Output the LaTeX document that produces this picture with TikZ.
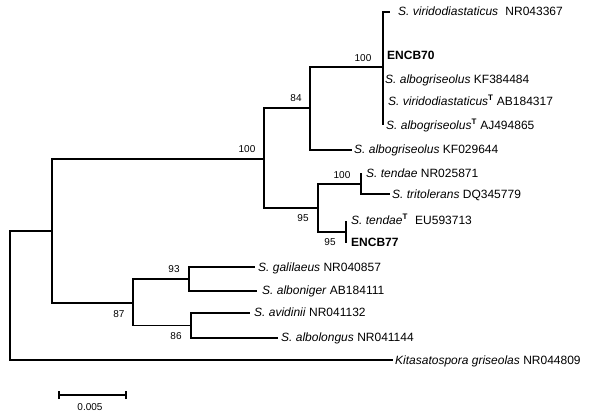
\documentclass[tikz,border=0pt]{standalone}
\usepackage{fontspec}
\setmainfont{Liberation Sans}
\begin{document}
\begin{tikzpicture}[x=1pt,y=-1pt,
  thk/.style={line width=1.9pt},
  thn/.style={line width=1.2pt},
  leaf/.style={anchor=west,inner sep=0pt,font=\fontsize{12}{14}\selectfont,text height=8.6pt,text depth=2.5pt},
  boot/.style={inner sep=0pt,font=\fontsize{10}{12}\selectfont}]
\useasboundingbox (0,0) rectangle (605,414);
\fill[white] (0,0) rectangle (605,414);
% internal nodes
\coordinate (R) at (10,295.5);
\coordinate (A) at (52,231);
\coordinate (U) at (264,159);
\coordinate (N84) at (310,108);
\coordinate (N100) at (383,67);
\coordinate (T95) at (318,208);
\coordinate (T100) at (361,184);
\coordinate (L95) at (346,232);
\coordinate (N87) at (133,303);
\coordinate (N93) at (189,279);
\coordinate (N86) at (191,325.5);
% tips
\coordinate (virT) at (390,12);
\coordinate (encbT) at (383,56);
\coordinate (kf38T) at (383,80);
\coordinate (ab18T) at (383,102);
\coordinate (aj49T) at (383,125);
\coordinate (kf02T) at (352,150);
\coordinate (tenT) at (361,173);
\coordinate (triT) at (390,194);
\coordinate (tentT) at (346,221);
\coordinate (enc77T) at (346,243);
\coordinate (galT) at (255,267);
\coordinate (albnT) at (257,291);
\coordinate (aviT) at (250,313);
\coordinate (albT) at (278,338);
\coordinate (kitT) at (393,360);
% edges
\draw[thn] (R) |- (A);
\draw[thn] (R) |- (kitT);
\draw[thk] (A) |- (U);
\draw[thk] (A) |- (N87);
\draw[thk] (U) |- (N84);
\draw[thk] (U) |- (T95);
\draw[thk] (N84) |- (N100);
\draw[thn] (N84) |- (kf02T);
\draw[thk] (N100) |- (virT);
\draw[thk] (N100) |- (encbT);
\draw[thk] (N100) |- (kf38T);
\draw[thk] (N100) |- (ab18T);
\draw[thk] (N100) |- (aj49T);
\draw[thk] (T95) |- (T100);
\draw[thk] (T95) |- (L95);
\draw[thn] (T100) |- (tenT);
\draw[thn] (T100) |- (triT);
\draw[thn] (L95) |- (tentT);
\draw[thn] (L95) |- (enc77T);
\draw[thk] (N87) |- (N93);
\draw[thk] (N87) |- (N86);
\draw[thn] (N93) |- (galT);
\draw[thn] (N93) |- (albnT);
\draw[thn] (N86) |- (aviT);
\draw[thn] (N86) |- (albT);
% leaf labels
\node[leaf] (vir) at (398,12) {\textit{S. viridodiastaticus}\hspace{0.6em}NR043367};
\node[leaf] (encb) at (387,56) {\textbf{ENCB70}};
\node[leaf] (kf38) at (385,80) {\textit{S. albogriseolus} KF384484};
\node[leaf] (ab18) at (388,102) {\textit{S. viridodiastaticus}\textsuperscript{\textbf{T}} AB184317};
\node[leaf] (aj49) at (386,126) {\textit{S. albogriseolus}\textsuperscript{\textbf{T}} AJ494865};
\node[leaf] (kf02) at (354,150) {\textit{S. albogriseolus} KF029644};
\node[leaf] (ten) at (366,174) {\textit{S. tendae} NR025871};
\node[leaf] (tri) at (392,195) {\textit{S. tritolerans} DQ345779};
\node[leaf] (tent) at (351,221) {\textit{S. tendae}\textsuperscript{\textbf{T}}\hspace{0.6em}EU593713};
\node[leaf] (enc77) at (351,243) {\textbf{ENCB77}};
\node[leaf] (gal) at (258,268) {\textit{S. galilaeus} NR040857};
\node[leaf] (albn) at (262,291) {\textit{S. alboniger} AB184111};
\node[leaf] (avi) at (254,313) {\textit{S. avidinii} NR041132};
\node[leaf] (alb) at (281,338) {\textit{S. albolongus} NR041144};
\node[leaf] (kit) at (395,361) {\textit{Kitasatospora griseolas} NR044809};
% bootstrap values
\node[boot] (b100a) at (363,58) {100};
\node[boot] (b84) at (296,98) {84};
\node[boot] (b100m) at (247,149) {100};
\node[boot] (b100t) at (342,175) {100};
\node[boot] (b95t) at (303,218) {95};
\node[boot] (b95l) at (330,242) {95};
\node[boot] (b93) at (174,269) {93};
\node[boot] (b87) at (119,314) {87};
\node[boot] (b86) at (176,336) {86};
% scale bar
\coordinate (sbL) at (59,395);
\coordinate (sbR) at (126,395);
\draw[thn] (sbL) -- (sbR);
\draw[thn] ([yshift=-4pt]sbL) -- ([yshift=4pt]sbL);
\draw[thn] ([yshift=-4pt]sbR) -- ([yshift=4pt]sbR);
\node[boot] (sbl) at (90,407) {0.005};
\end{tikzpicture}
\end{document}
